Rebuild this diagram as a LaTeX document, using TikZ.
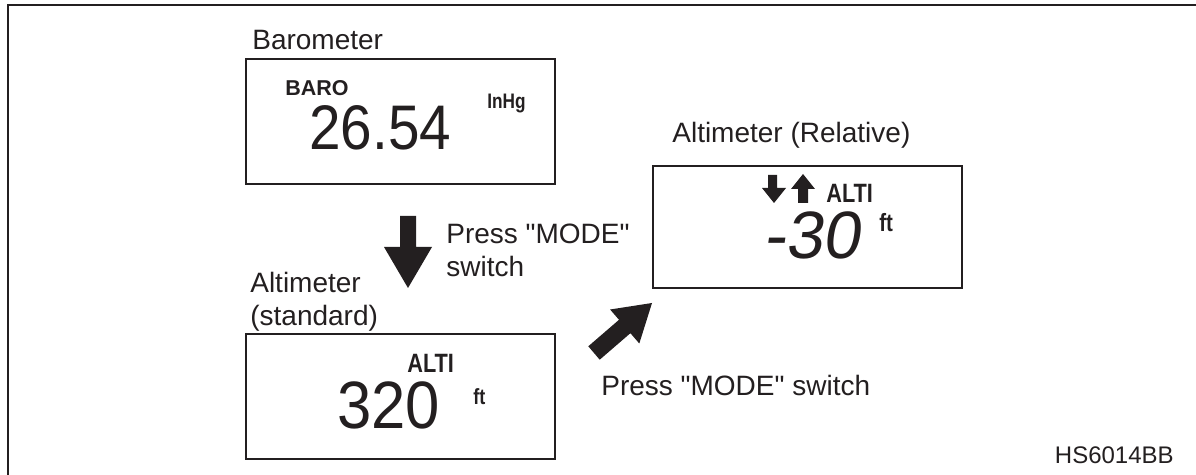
\documentclass[tikz,border=0pt]{standalone}
\usepackage{fontspec}
\setmainfont{Liberation Sans}
\newfontfamily\lcdnum{Liberation Sans}[FakeStretch=0.9]
\newfontfamily\lcdnumb{Liberation Sans}[FakeStretch=0.92]
\newfontfamily\lcdslant{Liberation Sans}[FakeSlant=0.15]
\newfontfamily\lcdlab{Liberation Sans}[FakeStretch=0.82]
\usetikzlibrary{fit}
\definecolor{ink}{RGB}{35,31,32}
\newcommand\px[1]{\fontsize{\fpeval{#1*0.5691}pt}{\fpeval{#1*0.5691*1.2}pt}\selectfont}
\newcommand\dq{\XeTeXglyph\XeTeXcharglyph"22\relax}
\tikzset{
  lbl/.style={anchor=base west, inner sep=0, font=\px{28}, text=ink, align=left},
  lcdbox/.style={draw=ink, line width=1.1pt, inner sep=0},
  lcdtxt/.style={anchor=base west, inner sep=0, text=ink, text depth=0pt},
  frame/.style={draw=ink, line width=1.1pt},
  blockarrow/.style={fill=ink}
}
\begin{document}
\begin{tikzpicture}[x=0.02cm,y=-0.02cm]
\useasboundingbox (0,0) rectangle (1196,475);
\draw[frame] (1196,5) -- (8,5) -- (8,475);

% Barometer box
\node[lbl] (lbaro) at (252,50) {Barometer};
\coordinate (b1a) at (246,59);
\coordinate (b1b) at (555,184);
\node[lcdbox, fit=(b1a)(b1b)] (baro) {};
\node[lcdtxt, font=\bfseries\px{21.5}, text height=0.32cm] (barot) at (285,96) {BARO};
\node[lcdtxt, font=\lcdnum\px{63}, text height=0.9cm] (barov) at (309,150) {26.54};
\node[lcdtxt, font=\lcdlab\bfseries\px{21}, text height=0.3cm] (barou) at (487,109) {InHg};

% Standard altimeter box
\node[lbl] (lstd) at (250,326) {Altimeter\\(standard)};
\coordinate (b2a) at (246,334);
\coordinate (b2b) at (555,459);
\node[lcdbox, fit=(b2a)(b2b)] (std) {};
\node[lcdtxt, font=\lcdlab\bfseries\px{26.5}, text height=0.38cm] (stdt) at (407,373) {ALTI};
\node[lcdtxt, font=\lcdnumb\px{67}, text height=0.96cm] (stdv) at (337,429) {320};
\node[lcdtxt, font=\lcdlab\bfseries\px{22}, text height=0.32cm] (stdu) at (473,405) {ft};

% Relative altimeter box
\node[lbl] (lrel) at (672,143) {Altimeter (Relative)};
\coordinate (b3a) at (653,166);
\coordinate (b3b) at (962,288);
\node[lcdbox, fit=(b3a)(b3b)] (rel) {};
\node[lcdtxt, font=\lcdlab\bfseries\px{26.5}, text height=0.38cm] (relt) at (826,203) {ALTI};
\node[lcdtxt, font=\lcdslant\px{67}, text height=0.96cm] (relv) at (763,259) {-30};
\node[lcdtxt, font=\lcdlab\bfseries\px{25}, text height=0.38cm] (relu) at (879,232) {ft};
% small down / up arrows
\fill[blockarrow] (768,175) -- (777,175) -- (777,188) -- (786,188) -- (774,203) -- (762,188) -- (768,188) -- cycle;
\fill[blockarrow] (803,174) -- (815,189) -- (808,189) -- (808,203) -- (798,203) -- (798,189) -- (791,189) -- cycle;

% Press MODE labels
\node[lbl] (press1) at (446,277) {Press \dq MODE\dq\\switch};
\node[lbl] (press2) at (601,396) {Press \dq MODE\dq{} switch};

% big down arrow
\fill[blockarrow] (400,216) -- (416,216) -- (416,247) -- (432,247) -- (408,288) -- (384,247) -- (400,247) -- cycle;
% big diagonal arrow
\fill[blockarrow] (588.3,346.3) -- (619.0,319.8) -- (610.1,309.5) -- (652,303) -- (639.3,343.5) -- (630.4,333.2) -- (599.7,359.7) -- cycle;

\node[anchor=base east, inner sep=0, font=\px{24}, text=ink] (code) at (1174,464) {HS6014BB};
\end{tikzpicture}
\end{document}
